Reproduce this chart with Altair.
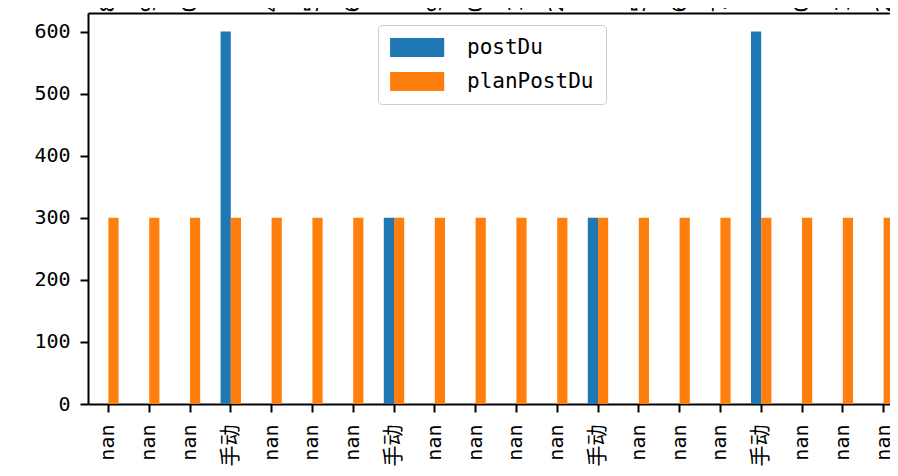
import json
import altair as alt
import pandas as pd

# ---- data ----
x_labels = ["nan", "nan", "nan", "手动", "nan", "nan", "nan", "手动", "nan", "nan",
            "nan", "nan", "手动", "nan", "nan", "nan", "手动", "nan", "nan", "nan"]
top_labels = ["8", "9", "0", "", "4", "5", "6", "", "9", "0",
              "1", "2", "", "5", "6", "7", "", "0", "1", "2"]
post_du = [0, 0, 0, 600, 0, 0, 0, 300, 0, 0, 0, 0, 300, 0, 0, 0, 600, 0, 0, 0]
plan_post_du = [300, 300, 300, 300, 300, 300, 300, 300, 300, 300,
                300, 300, 300, 300, 300, 300, 300, 300, 300, 300]
series = ["postDu", "planPostDu"]
colors = ["#1f77b4", "#ff7f0e"]
y_ticks = [0, 100, 200, 300, 400, 500, 600]

rows = []
for i in range(len(x_labels)):
    rows.append({"idx": i, "series": series[0], "value": post_du[i]})
    rows.append({"idx": i, "series": series[1], "value": plan_post_du[i]})
df = pd.DataFrame(rows)
df_top = pd.DataFrame({"idx": list(range(len(x_labels)))})

lab_js = json.dumps(x_labels, ensure_ascii=False)
top_js = json.dumps(top_labels, ensure_ascii=False)
cjk_idx = json.dumps([i for i, l in enumerate(x_labels) if l == "手动"])

MONO = "DejaVu Sans Mono, Noto Sans CJK SC"

# the reference plot area runs past the right edge of the picture
xscale = alt.Scale(paddingInner=0.5, paddingOuter=0.25, range=[0, 816])

bars = alt.Chart(df).mark_bar().encode(
    x=alt.X("idx:O", scale=xscale, title=None,
            axis=alt.Axis(orient="bottom", labelExpr=f"{lab_js}[datum.value]",
                          labelAngle=270, labelAlign="right", labelBaseline="middle",
                          labelFont=MONO,
                          labelFontSize={"condition": {"test": f"indexof({cjk_idx}, datum.value) >= 0", "value": 21}, "value": 20},
                          labelPadding=12, tickSize=8, tickWidth=2, domainWidth=2)),
    xOffset=alt.XOffset("series:N", sort=series,
                        scale=alt.Scale(domain=series, paddingInner=0, paddingOuter=0)),
    y=alt.Y("value:Q", title=None, scale=alt.Scale(domain=[0, 630], nice=False, zero=True),
            axis=alt.Axis(values=y_ticks, labelFont=MONO, labelFontSize=20,
                          labelPadding=10, tickSize=8, tickWidth=2, domainWidth=2)),
    color=alt.Color("series:N", sort=series,
                    scale=alt.Scale(domain=series, range=colors),
                    legend=alt.Legend(orient="none", legendX=290, legendY=12, title=None,
                                      symbolType="M-1.1,-1H4.6V1H-1.1Z", symbolSize=361,
                                      symbolStrokeWidth=0, symbolOpacity=1,
                                      labelFont=MONO, labelFontSize=21, labelColor="black",
                                      labelOffset=56, rowPadding=12, padding=12,
                                      fillColor="white", strokeColor="#cccccc",
                                      cornerRadius=4, labelLimit=400)),
)

top = alt.Chart(df_top).mark_point(opacity=0).encode(
    x=alt.X("idx:O", scale=xscale, title=None,
            axis=alt.Axis(orient="top", labelExpr=f"{top_js}[datum.value]",
                          labelAngle=270, labelAlign="left", labelBaseline="middle",
                          labelFont=MONO, labelFontSize=20, labelPadding=1,
                          ticks=False, domainWidth=2)),
)

chart = alt.layer(bars, top).resolve_axis(x="independent").properties(
    width=802, height=391,
    autosize=alt.AutoSizeParams(type="none"),
    padding={"left": 80, "top": 5, "right": 0, "bottom": 64},
).configure_view(stroke=None).configure_axis(
    grid=False, domainColor="black", tickColor="black", labelColor="black"
)

chart.save("out.html", embed_options={"renderer": "svg", "actions": False})
